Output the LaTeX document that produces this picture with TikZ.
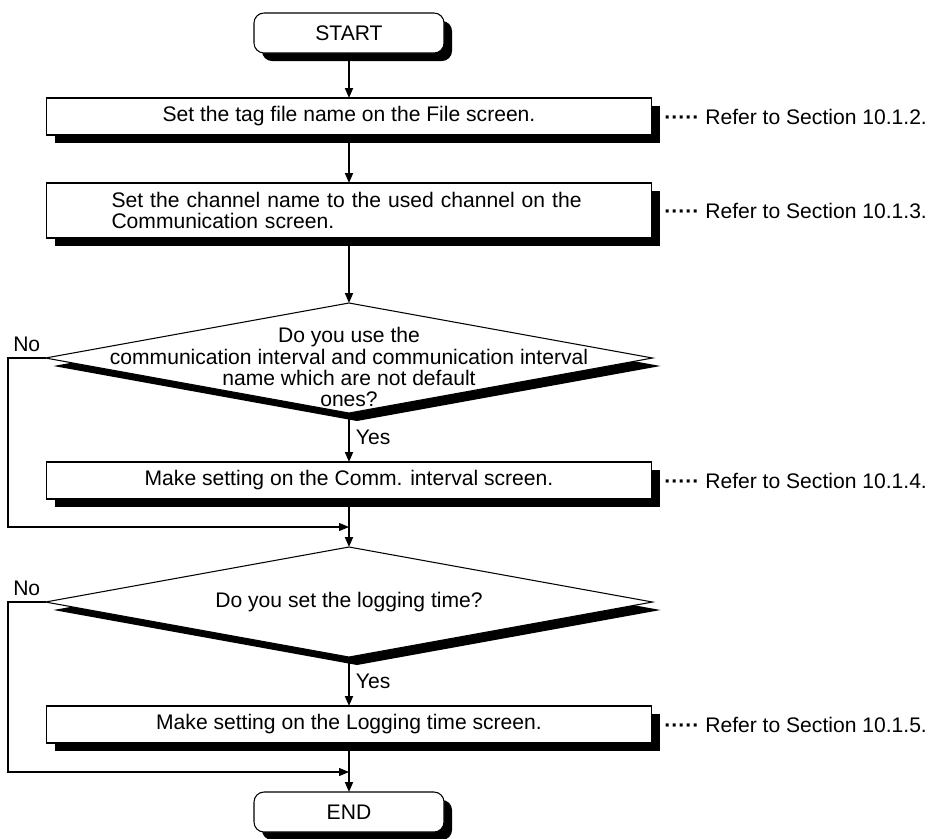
\documentclass[tikz,border=0pt]{standalone}
\usepackage{fontspec}
\setmainfont{Liberation Sans}
\usetikzlibrary{shapes.geometric, arrows.meta, positioning, shadows}
\newcommand{\chartfont}{\fontsize{12}{12}\selectfont}
\tikzset{
  blackshadow/.style={general shadow={fill=black, shadow xshift=0.16cm,
                      shadow yshift=-0.16cm}},
  basebox/.style={rectangle, draw=black, line width=0.6pt, fill=white,
                  align=center, font=\chartfont, inner sep=2pt,
                  outer sep=0pt, blackshadow},
  termnode/.style={basebox, rounded corners=0.2cm, minimum width=3.8cm,
                   minimum height=0.8cm},
  procnode/.style={basebox, minimum width=12.1cm, minimum height=0.74cm},
  decisionnode/.style={diamond, draw=black, line width=0.6pt, fill=white,
                       inner sep=0pt, outer sep=0pt, minimum width=12.14cm,
                       minimum height=2.2cm, blackshadow},
  decisiontext/.style={align=center, font=\chartfont, inner sep=0pt},
  refnode/.style={inner sep=0pt, font=\chartfont},
  labelnode/.style={font=\chartfont, inner sep=0.12cm},
  arrow/.style={-{Triangle[length=0.2cm, width=0.16cm]}, line width=1pt},
  noarrow/.style={-{Triangle[length=0.2cm, width=0.16cm]}, line width=0.6pt}
}
\begin{document}
\begin{tikzpicture}
  \useasboundingbox (0,0) rectangle (18.74,-16.76);

  % -- main column --
  \node[termnode] (start) at (6.98,-0.66) {START};
  \node[procnode, below=0.9cm of start] (s1)
      {Set the tag file name on the File screen.};
  \node[procnode, below=0.96cm of s1, minimum height=1.1cm, align=left,
        text width=9.5cm] (s2)
      {Set the channel name to the used channel on the\\Communication screen.};
  \node[decisionnode, below=1.3cm of s2] (q1) {};
  \node[decisiontext] (q1t) at ([yshift=-0.18cm]q1.center)
      {Do you use the\\communication interval and communication interval\\
       name which are not default\\ones?};
  \node[procnode, below=0.98cm of q1] (s3)
      {Make setting on the Comm. interval screen.};
  \coordinate[below=0.56cm of s3] (j1);
  \node[decisionnode, below=0.96cm of s3] (q2) {};
  \node[decisiontext] (q2t) at (q2.center) {Do you set the logging time?};
  \node[procnode, below=0.98cm of q2] (s4)
      {Make setting on the Logging time screen.};
  \coordinate[below=0.58cm of s4] (j2);
  \node[termnode, below=0.98cm of s4] (end) {END};

  % -- references --
  \node[refnode, right=0.25cm of s1] (r1)
      {\textbf{·····} Refer to Section 10.1.2.};
  \node[refnode, right=0.25cm of s2] (r2)
      {\textbf{·····} Refer to Section 10.1.3.};
  \node[refnode, right=0.25cm of s3] (r3)
      {\textbf{·····} Refer to Section 10.1.4.};
  \node[refnode, right=0.25cm of s4] (r4)
      {\textbf{·····} Refer to Section 10.1.5.};

  % -- arrows --
  \draw[arrow] (start) -- (s1);
  \draw[arrow] (s1) -- (s2);
  \draw[arrow] (s2) -- (q1);
  \draw[arrow] (q1) -- node[midway, right, labelnode] {Yes} (s3);
  \draw[arrow] (s3) -- (q2);
  \draw[arrow] (q2) -- node[midway, right, labelnode] {Yes} (s4);
  \draw[arrow] (s4) -- (end);
  \draw[noarrow] (q1.west) -- ++(-0.75,0) node[midway, above, labelnode] {No}
      |- (j1);
  \draw[noarrow] (q2.west) -- ++(-0.75,0) node[midway, above, labelnode] {No}
      |- (j2);

\end{tikzpicture}
\end{document}
